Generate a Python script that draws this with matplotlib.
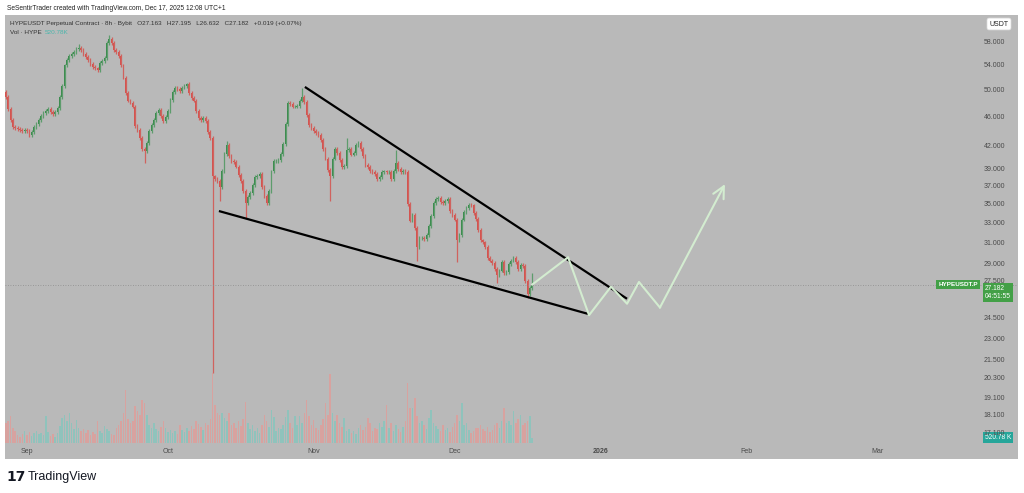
import matplotlib

matplotlib.use("Agg")
import matplotlib.dates as mdates
import matplotlib.pyplot as plt
import numpy as np
import pandas as pd
from matplotlib.ticker import FixedFormatter, FixedLocator, NullFormatter, NullLocator

# 12h candles, HYPEUSDT perpetual (closes)
first_open = 49.6
closes = [
    48.8, 47.1, 45.4, 44.5, 44.3, 44.2, 44.0, 43.9, 44.0, 43.9,
    43.4, 43.8, 44.5, 44.9, 45.4, 46.0, 46.5, 46.8, 47.1, 46.6,
    46.3, 46.6, 47.2, 48.8, 50.6, 53.9, 54.8, 55.5, 55.9, 56.2,
    56.8, 57.0, 56.6, 55.9, 55.3, 54.8, 54.1, 53.7, 53.4, 53.2,
    54.3, 54.6, 55.2, 57.8, 58.5, 57.8, 56.6, 56.2, 55.5, 53.9,
    51.9, 49.5, 48.3, 48.0, 47.4, 44.6, 44.0, 43.0, 41.5, 41.3,
    42.3, 43.9, 44.7, 45.4, 46.5, 46.9, 46.0, 45.3, 45.9, 46.8,
    48.4, 49.6, 50.3, 50.1, 49.8, 50.3, 50.6, 50.8, 49.5, 48.7,
    48.3, 46.8, 45.7, 45.4, 45.7, 45.3, 43.8, 43.0, 38.1, 37.8,
    37.6, 36.9, 38.8, 40.9, 42.0, 40.6, 40.0, 39.9, 39.3, 38.3,
    37.6, 36.4, 35.1, 35.7, 36.2, 37.1, 38.0, 38.2, 38.4, 36.9,
    35.8, 35.1, 36.4, 38.7, 40.0, 40.0, 40.1, 40.9, 42.2, 44.9,
    48.0, 47.8, 47.4, 47.4, 47.5, 48.3, 48.9, 48.1, 46.2, 44.7,
    44.3, 43.9, 43.6, 43.4, 42.7, 41.5, 40.3, 38.9, 38.1, 40.3,
    41.5, 41.0, 40.1, 39.2, 39.4, 41.4, 41.5, 40.8, 41.0, 42.0,
    42.3, 41.5, 40.6, 39.5, 39.2, 38.8, 38.6, 38.4, 37.8, 38.0,
    38.6, 38.7, 38.6, 38.6, 37.8, 38.8, 39.8, 39.0, 38.6, 38.8,
    38.6, 35.0, 33.2, 33.8, 32.4, 30.6, 31.4, 31.4, 31.3, 31.7,
    32.6, 33.7, 35.1, 35.5, 35.6, 35.2, 35.1, 35.3, 35.5, 34.2,
    33.8, 33.3, 31.2, 31.7, 33.3, 34.1, 34.5, 34.9, 34.8, 34.0,
    33.4, 32.2, 31.2, 31.0, 30.6, 29.5, 29.3, 29.1, 28.5, 28.0,
    28.4, 29.2, 28.2, 28.3, 29.0, 29.3, 29.5, 29.2, 28.5, 28.9,
    28.8, 27.5, 26.4, 26.9, 27.182,
]
# long wicks visible on the chart (bar index -> price)
wick_highs = {31: 57.6, 44: 59.3, 77: 51.0, 94: 42.6, 126: 50.3, 145: 43.0, 166: 41.4, 224: 28.2}
wick_lows = {59: 39.7, 88: 20.6, 91: 35.3, 102: 33.5, 138: 35.3, 175: 29.3, 192: 29.2, 209: 27.3, 222: 26.1}

# volume in millions HYPE
volume_m = [
    2.0, 2.2, 2.7, 1.5, 1.2, 0.8, 0.6, 0.9, 1.2, 0.8,
    1.1, 0.7, 1.0, 1.2, 0.9, 1.0, 0.8, 2.7, 1.1, 0.7,
    0.9, 0.6, 1.0, 1.7, 2.5, 2.8, 2.2, 3.0, 2.0, 1.4,
    2.3, 1.5, 1.2, 1.4, 1.0, 1.3, 0.8, 1.1, 0.9, 2.2,
    1.2, 1.0, 1.7, 1.4, 1.2, 0.9, 0.8, 1.5, 1.8, 2.2,
    3.0, 5.3, 2.4, 2.0, 2.2, 3.7, 3.2, 2.8, 4.3, 4.0,
    2.8, 1.8, 1.5, 2.0, 1.4, 1.2, 1.6, 2.2, 1.5, 1.1,
    1.3, 1.0, 1.2, 0.9, 1.8, 1.3, 1.1, 1.5, 1.2, 1.7,
    1.4, 2.2, 1.9, 1.6, 1.3, 2.0, 1.8, 2.4, 7.0, 3.8,
    3.0, 2.8, 3.0, 2.5, 2.2, 3.0, 1.8, 2.0, 1.5, 2.2,
    1.7, 2.4, 4.1, 2.0, 1.4, 1.8, 1.2, 1.5, 1.0, 1.8,
    2.8, 2.2, 1.6, 3.3, 2.6, 1.2, 1.5, 1.4, 1.8, 2.6,
    3.3, 2.0, 1.5, 2.7, 1.8, 2.7, 2.0, 3.0, 4.3, 2.7,
    1.8, 2.3, 1.5, 1.3, 1.8, 2.4, 4.0, 2.8, 6.9, 3.0,
    2.2, 2.8, 2.0, 1.6, 2.5, 1.2, 1.4, 1.0, 1.2, 0.9,
    1.5, 1.8, 1.3, 1.6, 2.5, 2.0, 1.2, 1.5, 1.4, 2.0,
    1.6, 2.2, 3.8, 1.5, 2.0, 1.2, 1.8, 1.4, 1.1, 1.6,
    2.2, 6.0, 3.5, 3.5, 4.5, 2.7, 2.0, 2.2, 1.8, 1.4,
    2.5, 3.3, 2.0, 1.7, 1.4, 1.2, 1.8, 1.3, 1.5, 1.1,
    1.6, 2.0, 2.8, 2.2, 4.0, 1.8, 2.0, 1.3, 1.0, 1.2,
    1.5, 1.5, 1.8, 1.4, 1.2, 1.6, 1.1, 1.3, 1.8, 2.0,
    1.5, 2.2, 3.5, 2.0, 2.2, 1.8, 3.2, 2.0, 2.4, 2.8,
    1.8, 2.0, 2.2, 2.7, 0.52,
]

# drawings
upper_line_t = ["2025-10-30 03:00", "2026-01-06 16:00"]
upper_line_p = [50.4, 26.0]
lower_line_t = ["2025-10-11 20:00", "2025-12-29 09:00"]
lower_line_p = [34.2, 24.8]
path_t = ["2025-12-17 12:00", "2025-12-25 03:00", "2025-12-29 14:00", "2026-01-03 06:00",
          "2026-01-06 16:00", "2026-01-09 05:00", "2026-01-13 16:00", "2026-01-27 12:00"]
path_p = [27.182, 29.6, 24.7, 27.0, 25.6, 27.4, 25.3, 37.2]

price_ticks = [58, 54, 50, 46, 42, 39, 37, 35, 33, 31, 29, 27.5, 26, 24.5, 23, 21.5, 20.3, 19.1, 18.1, 17.1]
month_ticks = ["2025-09-01", "2025-10-01", "2025-11-01", "2025-12-01", "2026-01-01", "2026-02-01", "2026-03-01"]
month_labels = ["Sep", "Oct", "Nov", "Dec", "2026", "Feb", "Mar"]

BG = "#b9b9b9"
UP, DOWN = "#3a8a4c", "#d4534f"
UP_WICK, DOWN_WICK = "#5d9c6c", "#d0625e"
VOL_UP, VOL_DOWN = "#8fc3bc", "#d8a29f"
WICK = 0.006

plt.rcParams["font.family"] = ["Liberation Sans", "DejaVu Sans"]

W, H = 1024, 493
fig = plt.figure(figsize=(W / 100, H / 100), dpi=100)
fig.patch.set_facecolor("white")


def fx(px):
    return px / W


def fy(py):
    return 1 - py / H


rect = [fx(5), fy(459), fx(1018) - fx(5), fy(15) - fy(459)]
vax = fig.add_axes(rect, zorder=0)
ax = fig.add_axes(rect, zorder=1)
ax.patch.set_alpha(0)
vax.set_facecolor(BG)

times = pd.date_range("2025-08-27 12:00", periods=len(closes), freq="12h")
x = mdates.date2num(times)
closes_a = np.array(closes)
opens_a = np.array([first_open] + closes[:-1])
up = closes_a >= opens_a
highs = np.maximum(opens_a, closes_a) * (1 + WICK)
lows = np.minimum(opens_a, closes_a) * (1 - WICK)
for i, v in wick_highs.items():
    highs[i] = v
for i, v in wick_lows.items():
    lows[i] = v

sep1 = mdates.date2num(pd.Timestamp("2025-09-01"))
xlim = (sep1 - 22 / 4.7, sep1 + 991 / 4.7)

# volume pane
vax.bar(x, volume_m, width=0.32, color=np.where(up, VOL_UP, VOL_DOWN), linewidth=0)
vax.set_xlim(xlim)
vax.set_ylim(-1.6, 42.8)
vax.set_xticks([])
vax.set_yticks([])
for s in vax.spines.values():
    s.set_visible(False)

# candles
ax.set_yscale("log")
ax.vlines(x, lows, highs, colors=np.where(up, UP_WICK, DOWN_WICK), linewidth=0.9)
body_lo = np.minimum(opens_a, closes_a)
body_h = np.abs(closes_a - opens_a)
ax.bar(x, body_h, bottom=body_lo, width=0.36, color=np.where(up, UP, DOWN), linewidth=0)

ax.axhline(closes[-1], color="#8c8c8c", lw=0.6, ls=(0, (1, 2)))
ax.plot(pd.to_datetime(upper_line_t), upper_line_p, color="black", lw=1.6, solid_capstyle="butt")
ax.plot(pd.to_datetime(lower_line_t), lower_line_p, color="black", lw=1.6, solid_capstyle="butt")
pt = mdates.date2num(pd.to_datetime(path_t))
ax.plot(pt[:-1], path_p[:-1], color="#d3ecd0", lw=1.5)
ax.annotate("", xy=(pt[-1], path_p[-1]), xytext=(pt[-2], path_p[-2]),
            arrowprops=dict(arrowstyle="->,head_length=0.7,head_width=0.35", color="#d3ecd0",
                            lw=1.5, mutation_scale=12, shrinkA=0, shrinkB=0))

ax.set_xlim(xlim)
ax.set_ylim(15.76, 63.1)
ax.yaxis.set_major_locator(FixedLocator(price_ticks))
ax.yaxis.set_major_formatter(FixedFormatter([f"{p:.3f}" for p in price_ticks]))
ax.yaxis.set_minor_locator(NullLocator())
ax.yaxis.set_minor_formatter(NullFormatter())
ax.yaxis.tick_right()
ax.tick_params(axis="y", length=0, pad=-9.4, labelsize=5, labelcolor="#4a4a4a")
plt.setp(ax.get_yticklabels(), ha="right")

ax.xaxis.set_major_locator(FixedLocator(mdates.date2num(pd.to_datetime(month_ticks))))
ax.xaxis.set_major_formatter(FixedFormatter(month_labels))
ax.tick_params(axis="x", length=0, pad=-7.6, labelsize=5, labelcolor="#4a4a4a")
for s in ax.spines.values():
    s.set_visible(False)
fig.canvas.draw()
ax.get_xticklabels()[4].set_fontweight("bold")

# price scale labels
blend = ax.get_yaxis_transform()
ax.text((978 - 5) / 1013, closes[-1], "HYPEUSDT.P", transform=blend, ha="right", va="center",
        fontsize=4.6, color="white", fontweight="bold",
        bbox=dict(boxstyle="square,pad=0.3", fc="#43a047", ec="none"))
ax.text((985 - 5) / 1013, closes[-1], "27.182\n04:51:55", transform=blend, ha="left", va="top",
        fontsize=4.8, color="white", linespacing=1.25,
        bbox=dict(boxstyle="square,pad=0.3", fc="#43a047", ec="none"))
vblend = vax.get_yaxis_transform()
vax.text((985 - 5) / 1013, volume_m[-1], "520.78 K", transform=vblend, ha="left", va="center",
         fontsize=4.8, color="white", zorder=5,
         bbox=dict(boxstyle="square,pad=0.3", fc="#26a69a", ec="none"))
fig.text(fx(999), fy(24), "USDT", ha="center", va="center", fontsize=5, color="#222",
         bbox=dict(boxstyle="round,pad=0.35,rounding_size=0.3", fc="white", ec="#dddddd", lw=0.5))

# header
fig.text(fx(7), fy(8), "SeSentirTrader created with TradingView.com, Dec 17, 2025 12:08 UTC+1",
         fontsize=4.8, color="#222", va="center")
fig.text(fx(10), fy(23), "HYPEUSDT Perpetual Contract · 8h · Bybit   O27.163   H27.195   L26.632   "
         "C27.182   +0.019 (+0.07%)", fontsize=4.6, color="#333", va="center", zorder=5)
fig.text(fx(10), fy(33), "Vol · HYPE", fontsize=4.6, color="#333", va="center", zorder=5)
fig.text(fx(45), fy(33), "520.78K", fontsize=4.6, color="#4db6ac", va="center", zorder=5)

# footer logo
fig.text(fx(6), fy(477), "17", fontsize=10, fontweight="heavy", color="#131722", va="center",
         family="DejaVu Sans")
fig.text(fx(28), fy(477), "TradingView", fontsize=9, color="#131722", va="center")

fig.savefig("out.png", dpi=100)
